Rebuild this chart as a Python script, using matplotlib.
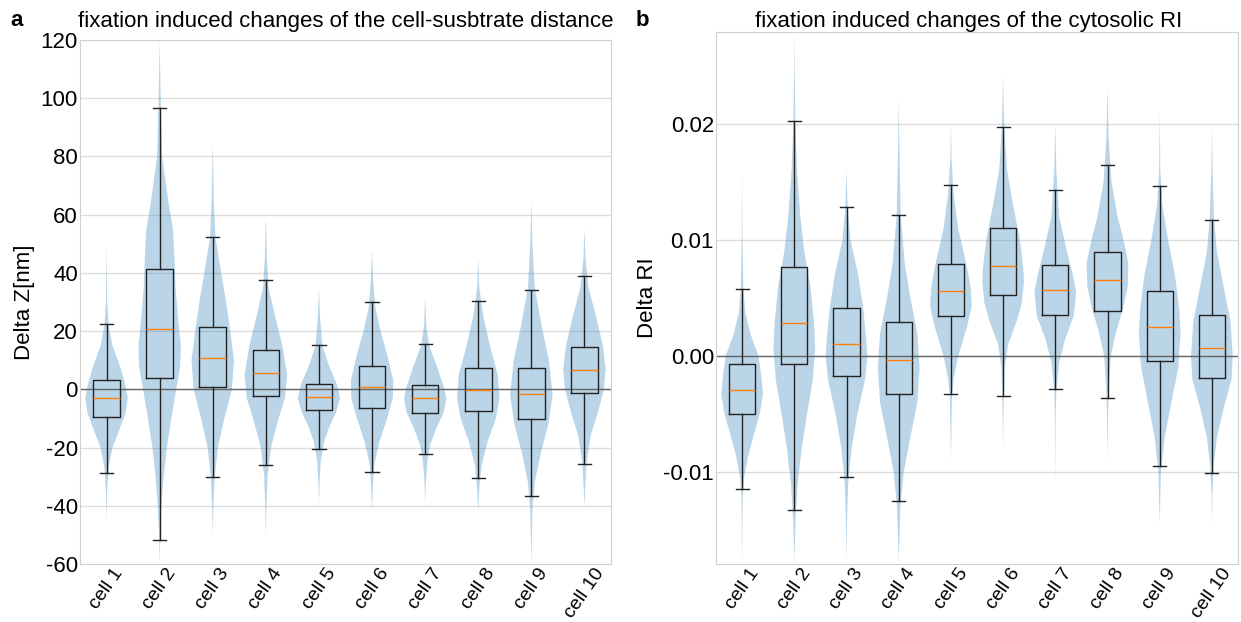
import matplotlib
matplotlib.use("Agg")
import matplotlib.pyplot as plt

plt.rcParams['font.family'] = ['Liberation Sans', 'DejaVu Sans']
plt.rcParams['axes.unicode_minus'] = False

cells = ["cell 1", "cell 2", "cell 3", "cell 4", "cell 5",
         "cell 6", "cell 7", "cell 8", "cell 9", "cell 10"]

# panel a: box statistics of Delta Z [nm]
z_med = [-3.1, 20.8, 10.8, 5.5, -2.7, 0.7, -3.1, -0.3, -1.6, 6.6]
z_q1 = [-9.4, 4.0, 0.7, -2.4, -7.2, -6.5, -8.0, -7.5, -10.2, -1.4]
z_q3 = [3.3, 41.2, 21.4, 13.5, 1.8, 8.1, 1.5, 7.5, 7.5, 14.7]
z_lo = [-28.6, -51.7, -30.2, -25.9, -20.6, -28.3, -22.2, -30.3, -36.6, -25.6]
z_hi = [22.4, 96.8, 52.4, 37.4, 15.2, 29.9, 15.7, 30.3, 34.1, 39.0]

# panel a: violin outlines (level, relative width)
z_vy = [
    [50, 30, 22, 15, 8, 2, -3, -8, -14, -20, -27, -35, -45],
    [120, 100, 80, 65, 55, 45, 35, 25, 15, 8, 0, -10, -20, -30, -40, -50, -60],
    [85, 65, 52, 40, 30, 20, 10, 0, -10, -20, -30, -40, -50],
    [60, 45, 35, 25, 15, 5, -3, -10, -20, -30, -40, -50],
    [35, 25, 15, 8, 2, -3, -8, -13, -18, -25, -32, -40],
    [48, 38, 28, 20, 12, 3, -3, -10, -18, -25, -32, -42],
    [32, 22, 15, 8, 1, -3, -8, -13, -19, -25, -32, -40],
    [45, 35, 25, 15, 5, -3, -10, -18, -26, -34, -42],
    [65, 50, 35, 22, 10, -2, -12, -22, -32, -42, -60],
    [55, 45, 35, 25, 15, 7, 0, -8, -16, -25, -35, -40],
]
z_vw = [
    [0, 0.03, 0.1, 0.28, 0.63, 0.87, 1.0, 0.9, 0.6, 0.28, 0.1, 0.03, 0],
    [0, 0.05, 0.12, 0.4, 0.63, 0.7, 0.75, 0.86, 1.0, 0.97, 0.78, 0.55, 0.34, 0.19, 0.09, 0.03, 0],
    [0, 0.05, 0.13, 0.4, 0.63, 0.83, 1.0, 0.9, 0.55, 0.24, 0.1, 0.03, 0],
    [0, 0.05, 0.13, 0.44, 0.78, 1.0, 0.9, 0.6, 0.24, 0.08, 0.03, 0],
    [0, 0.05, 0.16, 0.48, 0.83, 1.0, 0.8, 0.48, 0.24, 0.08, 0.03, 0],
    [0, 0.05, 0.16, 0.4, 0.71, 1.0, 0.98, 0.71, 0.35, 0.13, 0.05, 0],
    [0, 0.05, 0.19, 0.55, 0.87, 1.0, 0.87, 0.55, 0.24, 0.1, 0.03, 0],
    [0, 0.05, 0.24, 0.55, 0.92, 1.0, 0.83, 0.44, 0.16, 0.05, 0],
    [0, 0.05, 0.16, 0.48, 0.83, 1.0, 0.8, 0.44, 0.16, 0.05, 0],
    [0, 0.05, 0.19, 0.55, 0.87, 1.0, 0.92, 0.63, 0.29, 0.1, 0.03, 0],
]

# panel b: box statistics of Delta RI
ri_med = [-0.00296, 0.00287, 0.00106, -0.00032, 0.0056, 0.00776, 0.00569, 0.00652, 0.0025, 0.00066]
ri_q1 = [-0.0050, -0.00072, -0.00172, -0.00325, 0.00345, 0.00523, 0.00356, 0.00391, -0.0004, -0.0019]
ri_q3 = [-0.00072, 0.00767, 0.00411, 0.00293, 0.00793, 0.0110, 0.00784, 0.00894, 0.00557, 0.00353]
ri_lo = [-0.01147, -0.01325, -0.01043, -0.01244, -0.0033, -0.00345, -0.00287, -0.00359, -0.00943, -0.01003]
ri_hi = [0.00578, 0.02023, 0.01284, 0.01218, 0.01471, 0.01971, 0.01431, 0.01647, 0.01463, 0.01172]

ri_vy = [
    [0.016, 0.010, 0.006, 0.0037, 0.0019, 0.0, -0.0017, -0.0033, -0.005, -0.0068, -0.0086, -0.0104, -0.0122, -0.0178],
    [0.0279, 0.024, 0.020, 0.016, 0.012, 0.009, 0.006, 0.003, 0.0007, -0.002, -0.005, -0.008, -0.011, -0.014, -0.0178],
    [0.016, 0.013, 0.010, 0.007, 0.004, 0.0015, 0.0, -0.002, -0.005, -0.008, -0.011, -0.014, -0.0178],
    [0.0223, 0.018, 0.012, 0.008, 0.005, 0.002, -0.001, -0.004, -0.007, -0.010, -0.013, -0.0178],
    [0.0202, 0.017, 0.014, 0.011, 0.008, 0.006, 0.0043, 0.0025, 0.0, -0.002, -0.0035, -0.007, -0.009],
    [0.0241, 0.020, 0.016, 0.013, 0.010, 0.0075, 0.0064, 0.0045, 0.003, 0.001, -0.001, -0.004, -0.008],
    [0.020, 0.016, 0.012, 0.009, 0.007, 0.0055, 0.0035, 0.0015, -0.0005, -0.003, -0.005, -0.011],
    [0.0232, 0.019, 0.015, 0.012, 0.010, 0.008, 0.006, 0.004, 0.002, 0.0, -0.003, -0.006, -0.009],
    [0.0211, 0.016, 0.013, 0.010, 0.007, 0.004, 0.002, -0.001, -0.004, -0.007, -0.010, -0.013, -0.0145],
    [0.0199, 0.016, 0.012, 0.009, 0.006, 0.003, 0.0, -0.002, -0.0045, -0.007, -0.0095, -0.012, -0.0145],
]
ri_vw = [
    [0, 0.02, 0.06, 0.16, 0.4, 0.79, 0.92, 1.0, 0.84, 0.56, 0.29, 0.1, 0.03, 0],
    [0, 0.02, 0.05, 0.13, 0.29, 0.48, 0.77, 0.94, 1.0, 0.89, 0.61, 0.35, 0.16, 0.06, 0],
    [0, 0.05, 0.19, 0.56, 0.81, 0.94, 1.0, 0.89, 0.52, 0.24, 0.08, 0.03, 0],
    [0, 0.03, 0.1, 0.29, 0.56, 0.89, 1.0, 0.89, 0.56, 0.24, 0.08, 0],
    [0, 0.03, 0.13, 0.35, 0.73, 0.94, 1.0, 0.77, 0.35, 0.13, 0.05, 0.02, 0],
    [0, 0.05, 0.19, 0.48, 0.81, 0.97, 1.0, 0.89, 0.65, 0.24, 0.08, 0.03, 0],
    [0, 0.05, 0.19, 0.56, 0.84, 1.0, 0.89, 0.48, 0.19, 0.05, 0.02, 0],
    [0, 0.05, 0.19, 0.48, 0.77, 1.0, 0.97, 0.73, 0.4, 0.16, 0.05, 0.02, 0],
    [0, 0.03, 0.13, 0.4, 0.73, 0.94, 1.0, 0.89, 0.56, 0.24, 0.06, 0.02, 0],
    [0, 0.03, 0.1, 0.24, 0.56, 0.89, 1.0, 0.94, 0.56, 0.24, 0.08, 0.02, 0],
]


def draw_panel(ax, vy, vw, med, q1, q3, lo, hi):
    positions = list(range(1, len(cells) + 1))
    vpstats = []
    for ys, ws, m in zip(vy, vw, med):
        vpstats.append(dict(coords=ys, vals=ws, mean=m, median=m,
                            min=min(ys), max=max(ys)))
    parts = ax.violin(vpstats, positions=positions, widths=0.8,
                      showmeans=False, showextrema=False, showmedians=False)
    for body in parts['bodies']:
        body.set_facecolor('#1f77b4')
        body.set_edgecolor('none')
        body.set_alpha(0.3)

    stats = []
    for i in range(len(cells)):
        stats.append(dict(med=med[i], q1=q1[i], q3=q3[i],
                          whislo=lo[i], whishi=hi[i], fliers=[]))
    ax.bxp(stats, positions=positions, widths=0.5, showfliers=False,
           boxprops=dict(color='#222222', linewidth=1.0),
           whiskerprops=dict(color='#222222', linewidth=1.0),
           capprops=dict(color='#222222', linewidth=1.0),
           medianprops=dict(color='#ff7f0e', linewidth=1.0))

    ax.axhline(0, color='#666666', linewidth=1.0, zorder=1.5)
    ax.set_xticks(positions)
    ax.set_xticklabels(cells, rotation=55, fontsize=14)
    ax.set_xlim(0.5, len(cells) + 0.5)
    ax.tick_params(axis='y', length=0, labelsize=16, pad=1.5)
    ax.tick_params(axis='x', length=0, pad=1)
    ax.grid(axis='y', color='#dddddd', linewidth=1.0)
    ax.set_axisbelow(True)
    for sp in ax.spines.values():
        sp.set_color('#d0d0d0')


fig = plt.figure(figsize=(12.41, 6.22), dpi=100)
ax1 = fig.add_axes([80 / 1241, 1 - 564 / 622, 531 / 1241, 524 / 622])
ax2 = fig.add_axes([716 / 1241, 1 - 564 / 622, 522 / 1241, 532 / 622])

draw_panel(ax1, z_vy, z_vw, z_med, z_q1, z_q3, z_lo, z_hi)
ax1.set_ylim(-60, 120)
ax1.set_yticks(range(-60, 121, 20))
ax1.set_ylabel("Delta Z[nm]", fontsize=16, labelpad=4)

draw_panel(ax2, ri_vy, ri_vw, ri_med, ri_q1, ri_q3, ri_lo, ri_hi)
ax2.set_ylim(-0.0179, 0.0279)
ax2.set_yticks([-0.01, 0.0, 0.01, 0.02])
ax2.set_yticklabels(["-0.01", "0.00", "0.01", "0.02"])
ax2.set_ylabel("Delta RI", fontsize=16, labelpad=4)

fig.text(346 / 1241, 1 - 22 / 622, "fixation induced changes of the cell-susbtrate distance",
         ha='center', va='center', fontsize=16)
fig.text(969 / 1241, 1 - 22 / 622, "fixation induced changes of the cytosolic RI",
         ha='center', va='center', fontsize=16)
fig.text(10 / 1241, 1 - 20 / 622, "a", fontsize=16, fontweight='bold', va='center')
fig.text(636 / 1241, 1 - 20 / 622, "b", fontsize=16, fontweight='bold', va='center')

fig.savefig("out.png", dpi=100)
